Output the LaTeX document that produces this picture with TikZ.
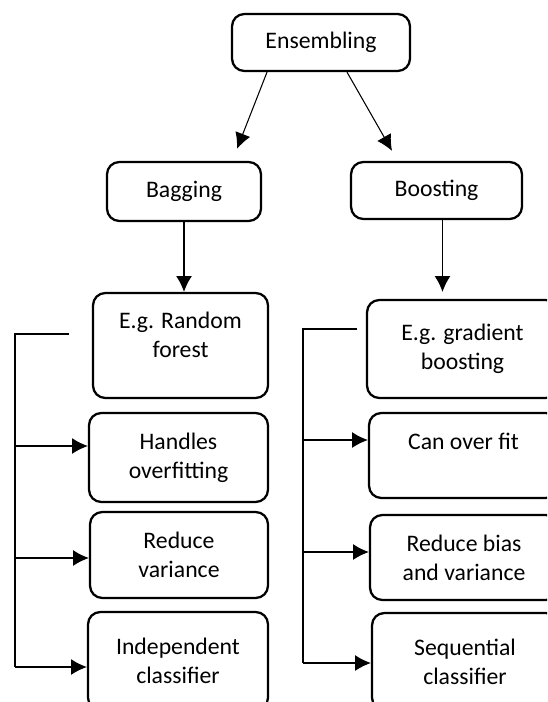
\documentclass[tikz,border=0pt]{standalone}
\usepackage{fontspec}
\setmainfont{Carlito}
\usetikzlibrary{arrows.meta}
\tikzset{
  box/.style={draw, line width=1.3pt, rounded corners=7pt, align=center, inner sep=2pt, font=\fontsize{13.5pt}{16.5pt}\selectfont},
  link/.style={line width=0.6pt, -{Latex[length=9pt,width=9pt]}}
}
\begin{document}
\begin{tikzpicture}[x=0.02cm, y=-0.02cm]
\clip (0,0) rectangle (547,702);
\node[box, minimum width=3.56cm, minimum height=1.14cm] (ens) at (321,42.5) {Ensembling};
\node[box, minimum width=3.08cm, minimum height=1.18cm] (bag) at (184,191.5) {Bagging};
\node[box, minimum width=3.42cm, minimum height=1.14cm] (boost) at (436.5,190.5) {Boosting};
%%%%%%%%%%%%%
\node[box, minimum width=3.5cm, minimum height=2.1cm] (rf) at (180.5,345.5) {E.g. Random\\forest\\[-4pt]};
\node[box, minimum width=3.58cm, minimum height=1.78cm] (hand) at (178.5,457.5) {Handles\\overfitting};
\node[box, minimum width=3.56cm, minimum height=1.72cm] (rv) at (179,555) {Reduce\\variance};
\node[box, minimum width=3.6cm, minimum height=1.96cm] (ic) at (178,661) {Independent\\classifier};
%%%%%%%%%%%%%
\node[box, minimum width=3.82cm, minimum height=1.96cm] (gb) at (462.5,349) {E.g. gradient\\boosting};
\node[box, minimum width=3.78cm, minimum height=1.7cm] (cof) at (463.5,455.5) {Can over fit\\~};
\node[box, minimum width=3.76cm, minimum height=1.7cm] (rb) at (464,557.5) {Reduce bias\\and variance};
\node[box, minimum width=3.72cm, minimum height=1.94cm] (sc) at (465,661.5) {Sequential\\classifier};
%%%%%%%%%%%%%
\draw[link] ([xshift=-1.08cm]ens.south) -- ([xshift=1.06cm, yshift=0.24cm]bag.north);
\draw[link] ([xshift=0.52cm]ens.south) -- ([xshift=-0.89cm, yshift=0.2cm]boost.north);
\draw[link] (bag.south) -- (bag.south |- rf.north);
\draw[link, shorten >=0.14cm] ([xshift=0.12cm]boost.south) -- ([xshift=0.12cm]boost.south |- gb.north);
%%%%%%%%%%%%%
\coordinate (lt) at (69,334);
\coordinate (lc) at (15,334);
\coordinate (ho) at ([yshift=0.23cm]hand.west);
\coordinate (rvo) at ([yshift=-0.06cm]rv.west);
\coordinate (ico) at ([yshift=-0.12cm]ic.west);
\draw[line width=0.6pt] (lt) -- (lc) -- (lc |- ico);
\draw[link] (lc |- ho) -- (ho);
\draw[link] (lc |- rvo) -- (rvo);
\draw[link] (lc |- ico) -- (ico);
%%%%%%%%%%%%%
\coordinate (rt) at (357,329);
\coordinate (rc) at (303,329);
\coordinate (cofo) at ([yshift=0.31cm]cof.west);
\coordinate (rbo) at ([yshift=0.11cm]rb.west);
\coordinate (sco) at ([yshift=-0.03cm]sc.west);
\draw[line width=0.6pt] (rt) -- (rc) -- (rc |- sco);
\draw[link] (rc |- cofo) -- (cofo);
\draw[link] (rc |- rbo) -- (rbo);
\draw[link] (rc |- sco) -- (sco);
\end{tikzpicture}
\end{document}
